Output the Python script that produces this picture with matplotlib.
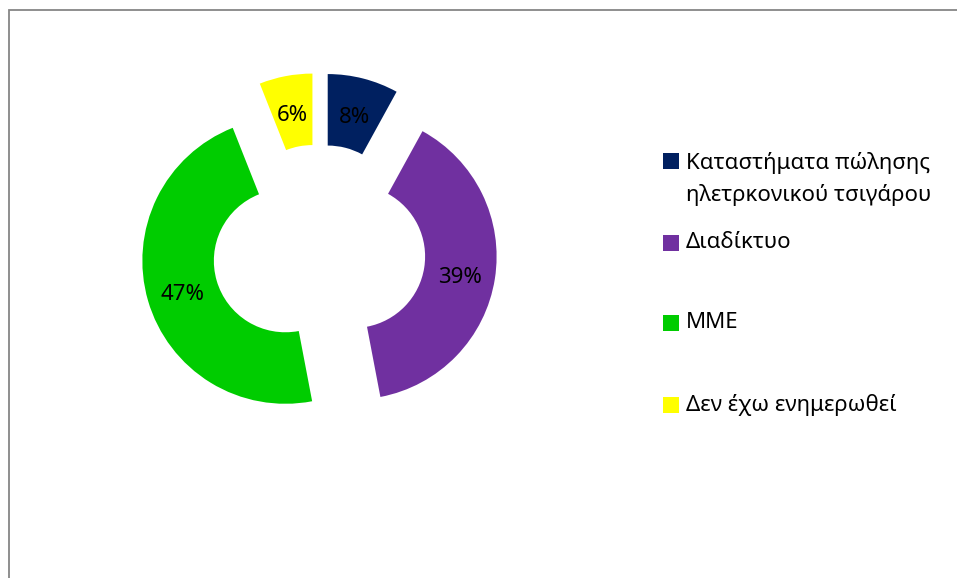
import matplotlib.pyplot as plt
from matplotlib.patches import Rectangle

plt.rcParams['font.family'] = ['Noto Sans', 'DejaVu Sans']

# data
categories = ['Καταστήματα πώλησης\nηλετρκονικού τσιγάρου', 'Διαδίκτυο', 'ΜΜΕ', 'Δεν έχω ενημερωθεί']
values = [8, 39, 47, 6]
colors = ['#002060', '#7030A0', '#00CC00', '#FFFF00']

W, H = 957, 578
fig = plt.figure(figsize=(W / 100, H / 100), dpi=100)

# donut geometry in pixels
cx, cy, R = 319, 251, 143
half = 210
ax = fig.add_axes([(cx - half) / W, (H - cy - half) / H, 2 * half / W, 2 * half / H])
lim = half / R
ax.axis('off')

wedges, texts, autotexts = ax.pie(
    values, colors=colors, startangle=90, counterclock=False,
    explode=[0.245] * len(values), radius=1,
    wedgeprops=dict(width=0.5, linewidth=0),
    autopct='%.0f%%', pctdistance=0.75,
    textprops=dict(fontsize=16, color='black'))
ax.set_xlim(-lim, lim)
ax.set_ylim(-lim, lim)
ax.set_aspect('auto')
for t in autotexts:
    x, y = t.get_position()
    t.set_position((x, y - 4 / R))

# frame
fig.patches.append(Rectangle((8.5 / W, -0.1), 1.1, (H - 9.5) / H + 0.1,
                             transform=fig.transFigure, fill=False,
                             edgecolor='#868686', linewidth=1.3))

# legend drawn by hand to keep Excel's spacing
legend_y = [161, 243, 323, 405]
for lab, col, y in zip(categories, colors, legend_y):
    fig.patches.append(Rectangle((663 / W, (H - y - 8) / H), 16 / W, 16 / H,
                                 transform=fig.transFigure, facecolor=col,
                                 edgecolor='none'))
    ty = y + 18 if '\n' in lab else y
    fig.text(686 / W, (H - ty) / H, lab, fontsize=16, va='center',
             ha='left', linespacing=1.6)

fig.savefig('out.png', dpi=100, facecolor='white')
